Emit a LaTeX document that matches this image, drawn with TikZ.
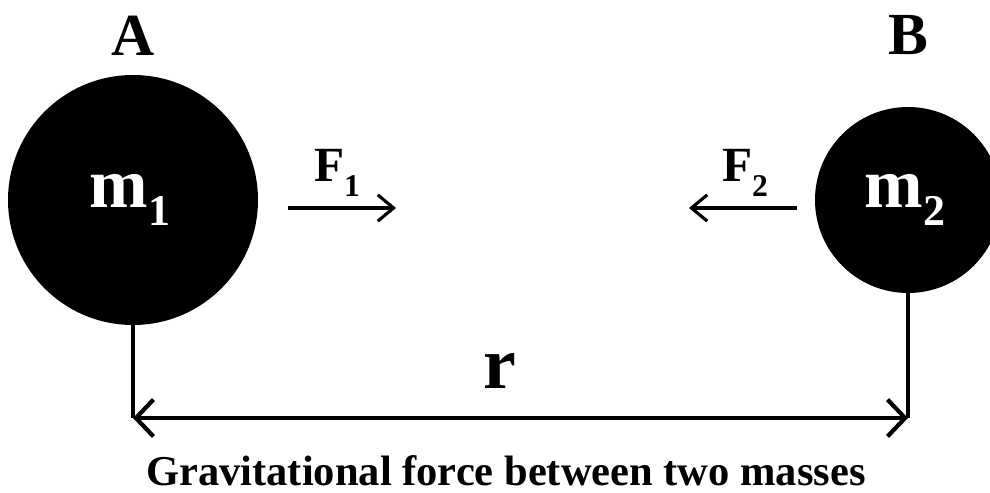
\documentclass[tikz,border=0pt]{standalone}
\usepackage{fontspec}
\setmainfont{Liberation Serif}
\usetikzlibrary{arrows.meta}
\begin{document}
\begin{tikzpicture}[x=0.02cm,y=-0.02cm,
  mass/.style={circle,fill=black,inner sep=0pt},
  lbl/.style={font=\bfseries\fontsize{34}{38}\selectfont,inner sep=0pt,anchor=base},
  big/.style={text=white,font=\bfseries\fontsize{40}{44}\selectfont,inner sep=0pt},
  flabel/.style={font=\bfseries\fontsize{28}{32}\selectfont,inner sep=0pt,anchor=base},
  dimline/.style={line width=2.2pt},
  forcearrow/.style={line width=1.8pt,-{Straight Barb[length=9pt,width=15pt,line width=1.8pt]}},
  rarrow/.style={line width=2.4pt,{Straight Barb[length=10pt,width=21pt,line width=2.4pt]}-{Straight Barb[length=10pt,width=21pt,line width=2.4pt]}}]
\useasboundingbox (0,0) rectangle (990,493);
\fill[white] (0,0) rectangle (990,493);
\begin{scope}
\clip (0,0) rectangle (990,493);
\node[mass,minimum size=250*0.02cm] (m1) at (133,200) {};
\node[mass,minimum size=186*0.02cm] (m2) at (908,200) {};
\end{scope}
\node[big] (t1) at (130,200) {m\raisebox{-0.25em}{\fontsize{25}{28}\selectfont 1}};
\node[big] (t2) at (905,200) {m\raisebox{-0.25em}{\fontsize{25}{28}\selectfont 2}};
\node[lbl] (A) at (133,56) {A};
\node[lbl] (B) at (908,55) {B};
\coordinate (bl) at (133,418);
\coordinate (br) at (908,418);
\draw[dimline] (m1.south) -- (bl);
\draw[dimline] (m2.south) -- (br);
\draw[rarrow] (bl) -- (br);
\node[font=\bfseries\fontsize{42}{46}\selectfont,inner sep=0pt,anchor=base] (r) at (500,388) {r};
\coordinate (f1s) at (288,208);
\coordinate (f1e) at (396,208);
\coordinate (f2s) at (797,208);
\coordinate (f2e) at (689,208);
\draw[forcearrow] (f1s) -- (f1e);
\draw[forcearrow] (f2s) -- (f2e);
\node[flabel] (F1) at (337,182) {F\raisebox{-0.3em}{\fontsize{18}{20}\selectfont 1}};
\node[flabel] (F2) at (745,182) {F\raisebox{-0.3em}{\fontsize{18}{20}\selectfont 2}};
\node[font=\bfseries\fontsize{24.2}{28}\selectfont,inner sep=0pt,anchor=base] (cap) at (506,485) {Gravitational force between two masses};
\end{tikzpicture}
\end{document}
